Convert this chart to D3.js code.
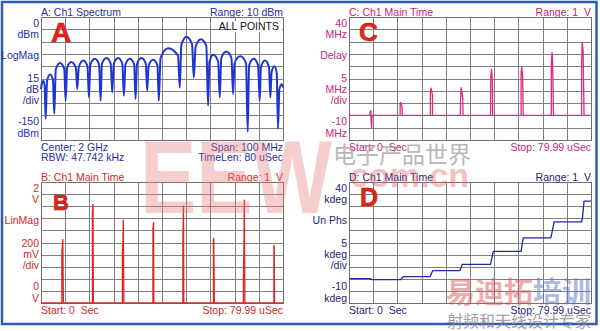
<!DOCTYPE html>
<html>
<head>
<meta charset="utf-8">
<script src="https://cdn.jsdelivr.net/npm/d3@7"></script>
<style>
body { margin:0; background:#fff; }
svg text { font-family: "Liberation Sans Narrow", "Arial Narrow", sans-serif; font-size: 10.5px; }
</style>
</head>
<body>
<div id="chart"></div>
<script>

// A: spectrum, offset from 2 GHz centre (MHz) and level (dBm)
var specOffset = [-50, -49.6, -49.04, -48.5, -48.07,
	-47.5, -46.29, -45.1, -44.5,
	-43.9, -42.16, -40.4, -39.82,
	-39.2, -37.48, -35.6, -35.01,
	-34.4, -32.53, -30.8, -30.19,
	-29.6, -27.72, -26.0, -25.38,
	-24.8, -22.9, -21.2, -20.56,
	-19.9, -18.09, -16.4, -15.75,
	-15.1, -13.27, -11.5, -10.94,
	-10.3, -8.46, -6.7, -6.12,
	-5.5, -3.65, -1.9, -1.31,
	-0.6, 2.54, 6.6, 7.36,
	8.0, 10.11, 12.4, 13.14,
	13.9, 16.02, 18.3, 19.05,
	19.6, 21.11, 23.2, 23.87,
	24.5, 26.62, 28.7, 29.37,
	30.0, 32.39, 34.7, 35.42,
	36.0, 37.9, 39.7, 40.37,
	40.9, 42.57, 44.2, 44.77,
	45.3, 46.42, 47.4, 47.94,
	48.5, 49.45, 50];
var specLevel = [-88, -80, -78, -84, -124,
	-78, -70, -76, -118,
	-64, -56, -63, -102,
	-62, -55, -62, -88,
	-61, -53, -60, -98,
	-58, -51, -58, -102,
	-57, -50, -57, -92,
	-57, -50, -57, -96,
	-58, -51, -58, -100,
	-57, -50, -57, -90,
	-59, -52, -59, -102,
	-50, -38, -47, -86,
	-34, -24, -33, -74,
	-36, -27, -35, -108,
	-55, -46, -54, -98,
	-50, -42, -50, -94,
	-56, -48, -56, -140,
	-59, -51, -59, -102,
	-61, -53, -61, -98,
	-67, -60, -68, -136,
	-88, -82, -86];

// B: main time, LinMag (V) against time (uSec)
var bTime = [0,
	6.9, 6.9, 7.2, 7.4,
	17.0, 17.0, 17.2, 17.3,
	26.9, 26.9, 27.1, 27.2, 27.4,
	37.0, 37.0, 37.2, 37.3,
	46.9, 46.9, 47.1, 47.2,
	57.0, 57.0, 57.1, 57.3,
	66.9, 66.9, 67.1, 67.2, 67.4,
	77.0, 77.0, 77.1, 77.2,
	80];
var bVolt = [0,
	0, 0.84, 1.05, 0,
	0, 1.5, 1.63, 0,
	0, 0.85, 1.04, 1.37, 0,
	0, 1.23, 1.33, 0,
	0, 0.99, 1.60, 0,
	0, 1.05, 1.07, 0,
	0, 0.37, 0.95, 1.70, 0,
	0, 0.93, 0.95, 0,
	0];

// C: main time, delay (MHz)
var cTime = [0, 6.9, 7.0, 7.2, 7.3, 7.5, 7.6,
	16.9, 16.9, 17.1, 17.4, 17.6, 17.6,
	26.9, 26.9, 27.1, 27.4, 27.6, 27.6,
	36.8, 36.9, 37.1, 37.3, 37.6, 37.7,
	46.8, 46.8, 46.9, 47.1, 47.4, 47.5,
	56.9, 56.9, 57.1, 57.4, 57.6,
	66.9, 66.9, 67.1, 67.3, 67.5, 67.6,
	76.9, 76.9, 77.1, 77.4, 77.6, 77.7, 80];
var cDelay = [0, 0, 1.5, 2.0, -2.0, -5.0, 0,
	0, 4.5, 5.3, 4.0, 2.0, 0,
	0, 9.3, 11.1, 9.5, 8.0, 0,
	0, 7.3, 11.3, 10.0, 7.0, 0,
	0, 4.7, 16.0, 18.7, 14.0, 0,
	0, 17.3, 19.7, 16.0, 0,
	0, 20.7, 25.6, 23.0, 8.7, 0,
	0, 21.3, 29.6, 26.0, 8.7, 0, 0];

// D: main time, unwrapped phase (kdeg)
var dTime = [0, 7.1, 7.4, 17.1, 17.9, 26.8, 27.7, 36.7, 37.5, 46.8, 47.7, 56.9, 57.6, 66.7, 67.0, 67.8, 76.9, 77.2, 77.7, 80];
var dPhase = [0.1, 0.1, -0.3, -0.3, 0.9, 0.9, 3.4, 3.4, 6.0, 6.0, 11.3, 11.3, 16.9, 16.9, 18.5, 23.5, 23.5, 25.5, 32.1, 32.1];

// axis labels
var aSide = ['0', 'dBm', 'LogMag', '15', 'dB', '/div', '-150', 'dBm'];
var bSide = ['2', 'V', 'LinMag', '200', 'mV', '/div', '0', 'V'];
var cSide = ['40', 'MHz', 'Delay', '5', 'MHz', '/div', '-10', 'MHz'];
var dSide = ['40', 'kdeg', 'Un Phs', '5', 'kdeg', '/div', '-10', 'kdeg'];


//drawing area

var width = 600,
	height = 331;

var svg = d3.select('#chart')
	.append('svg')
	.attr('width', width)
	.attr('height', height);

svg.append('rect')
	.attr('x', 2).attr('y', 2)
	.attr('width', 594.5).attr('height', 322)
	.attr('fill', '#fff')
	.attr('stroke', '#2f5cae')
	.attr('stroke-width', 2.5);

var sideOffsets = [10, 20.5, 42, 65, 75.5, 87, 108, 119.5];

var drawPanel = function(p){
	var x = d3.scaleLinear().domain(p.xDomain).range([p.left, p.right]);
	var y = d3.scaleLinear().domain(p.yDomain).range([p.bottom, p.top]);
	var g = svg.append('g');
	var h = p.bottom - p.top, w = p.right - p.left;

	// grid through the axes
	var xt = d3.range(11).map(function(i){ return p.xDomain[0] + i * (p.xDomain[1] - p.xDomain[0]) / 10; });
	var yt = d3.range(11).map(function(i){ return p.yDomain[0] + i * (p.yDomain[1] - p.yDomain[0]) / 10; });
	g.append('g')
		.attr('transform', 'translate(0,' + p.bottom + ')')
		.call(d3.axisBottom(x).tickValues(xt).tickSize(-h).tickFormat(''));
	g.append('g')
		.attr('transform', 'translate(' + p.left + ',0)')
		.call(d3.axisLeft(y).tickValues(yt).tickSize(-w).tickFormat(''));
	g.selectAll('.domain').remove();
	g.selectAll('.tick line')
		.attr('stroke', '#808080')
		.attr('shape-rendering', 'crispEdges');
	g.append('rect')
		.attr('x', p.left).attr('y', p.top)
		.attr('width', w).attr('height', h)
		.attr('fill', 'none')
		.attr('stroke', '#707070')
		.attr('shape-rendering', 'crispEdges');

	if (p.box) {
		g.append('rect')
			.attr('x', p.right - 54).attr('y', p.top + 4)
			.attr('width', 53).attr('height', 11)
			.attr('fill', '#fff');
		g.append('text')
			.attr('x', p.right - 4).attr('y', p.top + 13)
			.attr('text-anchor', 'end')
			.attr('fill', '#111')
			.text(p.box);
	}

	// trace
	var pts = p.xs.map(function(v, i){ return [v, p.ys[i]]; });
	var line = d3.line()
		.x(function(d){ return x(d[0]); })
		.y(function(d){ return y(d[1]); })
		.curve(p.curve || d3.curveLinear);
	g.append('path')
		.datum(pts)
		.attr('d', line)
		.attr('fill', 'none')
		.attr('stroke', p.trace)
		.attr('stroke-width', p.lw)
		.attr('stroke-linejoin', 'round');

	// texts
	g.append('text').attr('x', p.left).attr('y', p.top - 1.5).attr('fill', p.text).text(p.title);
	g.append('text').attr('x', p.right).attr('y', p.top - 1.5).attr('text-anchor', 'end').attr('fill', p.text).text(p.range);
	g.selectAll('text.side')
		.data(p.side)
		.enter()
		.append('text')
		.classed('side', true)
		.attr('x', p.left - 2)
		.attr('y', function(d, i){ return p.top + sideOffsets[i]; })
		.attr('text-anchor', 'end')
		.attr('fill', p.text)
		.text(function(d){ return d; });
	p.foot.forEach(function(row, i){
		g.append('text').attr('x', p.left).attr('y', p.bottom + 10.5 + i * 10).attr('fill', p.text).text(row[0]);
		g.append('text').attr('x', p.right).attr('y', p.bottom + 10.5 + i * 10).attr('text-anchor', 'end').attr('fill', p.text).text(row[1]);
	});

	// big panel letter
	g.append('text')
		.attr('x', p.left + p.letterDx).attr('y', p.top + p.letterDy)
		.attr('fill', '#e4261a')
		.attr('stroke', '#b01810').attr('stroke-width', 0.6)
		.style('font-family', '"Liberation Sans", Arial, sans-serif')
		.style('font-weight', 'bold')
		.style('font-size', p.letterSize + 'px')
		.text(p.letter);
};

drawPanel({left: 41, right: 283, top: 17, bottom: 140,
	xDomain: [-50, 50], yDomain: [-150, 0], xs: specOffset, ys: specLevel,
	curve: d3.curveMonotoneX, trace: '#1f35d2', lw: 2, text: '#2430a8',
	title: 'A: Ch1 Spectrum', range: 'Range: 10 dBm', side: aSide,
	foot: [['Center: 2 GHz', 'Span: 100 MHz'], ['RBW: 47.742 kHz', 'TimeLen: 80 uSec']],
	box: 'ALL POINTS', letter: 'A', letterDx: 10, letterDy: 25, letterSize: 28});

drawPanel({left: 349, right: 591, top: 17, bottom: 140,
	xDomain: [0, 80], yDomain: [-10, 40], xs: cTime, ys: cDelay,
	trace: '#e0287e', lw: 1.3, text: '#c8257a',
	title: 'C: Ch1 Main Time', range: 'Range: 1\u00a0 V', side: cSide,
	foot: [['Start: 0\u00a0 Sec', 'Stop: 79.99 uSec']],
	letter: 'C', letterDx: 10, letterDy: 24, letterSize: 26});

drawPanel({left: 41, right: 283, top: 182, bottom: 303,
	xDomain: [0, 80], yDomain: [0, 2], xs: bTime, ys: bVolt,
	trace: '#e02424', lw: 1.3, text: '#d02828',
	title: 'B: Ch1 Main Time', range: 'Range: 1\u00a0 V', side: bSide,
	foot: [['Start: 0\u00a0 Sec', 'Stop: 79.99 uSec']],
	letter: 'B', letterDx: 12, letterDy: 28, letterSize: 22});

drawPanel({left: 349, right: 591, top: 182, bottom: 303,
	xDomain: [0, 80], yDomain: [-10, 40], xs: dTime, ys: dPhase,
	trace: '#1e2a9e', lw: 1.3, text: '#1e2478',
	title: 'D: Ch1 Main Time', range: 'Range: 1\u00a0 V', side: dSide,
	foot: [['Start: 0\u00a0 Sec', 'Stop: 79.99 uSec']],
	letter: 'D', letterDx: 11, letterDy: 24, letterSize: 25});


//watermarks

var wm = svg.append('g').style('pointer-events', 'none');
wm.append('text')
	.attr('x', 140).attr('y', 213)
	.attr('textLength', 192).attr('lengthAdjust', 'spacingAndGlyphs')
	.attr('fill', '#ea7a7a').attr('opacity', 0.36)
	.style('font-family', '"Liberation Sans", Arial, sans-serif')
	.style('font-weight', 'bold').style('font-size', '104px')
	.text('EEW');
wm.append('text')
	.attr('x', 350).attr('y', 187)
	.attr('fill', '#e86a6a').attr('opacity', 0.42)
	.style('font-family', '"Liberation Sans", Arial, sans-serif')
	.style('font-weight', 'bold').style('font-size', '34px')
	.text('com.cn');
wm.append('text')
	.attr('x', 333).attr('y', 163)
	.attr('fill', '#9a9a9a').attr('opacity', 0.7)
	.style('font-family', '"Noto Sans CJK SC", sans-serif')
	.style('font-size', '23px')
	.text('电子产品世界');
wm.append('text')
	.attr('x', 446).attr('y', 303)
	.style('font-family', '"Noto Sans CJK SC", sans-serif')
	.style('font-weight', 'bold').style('font-size', '29px')
	.attr('opacity', 0.5)
	.call(function(t){
		t.append('tspan').attr('fill', '#e05a5a').text('易迪拓');
		t.append('tspan').attr('fill', '#5a7ac8').text('培训');
	});
wm.append('text')
	.attr('x', 447).attr('y', 327)
	.attr('fill', '#8a8a8a').attr('opacity', 0.8)
	.style('font-family', '"Noto Sans CJK SC", sans-serif')
	.style('font-size', '16px')
	.text('射频和天线设计专家');
</script>
</body>
</html>
